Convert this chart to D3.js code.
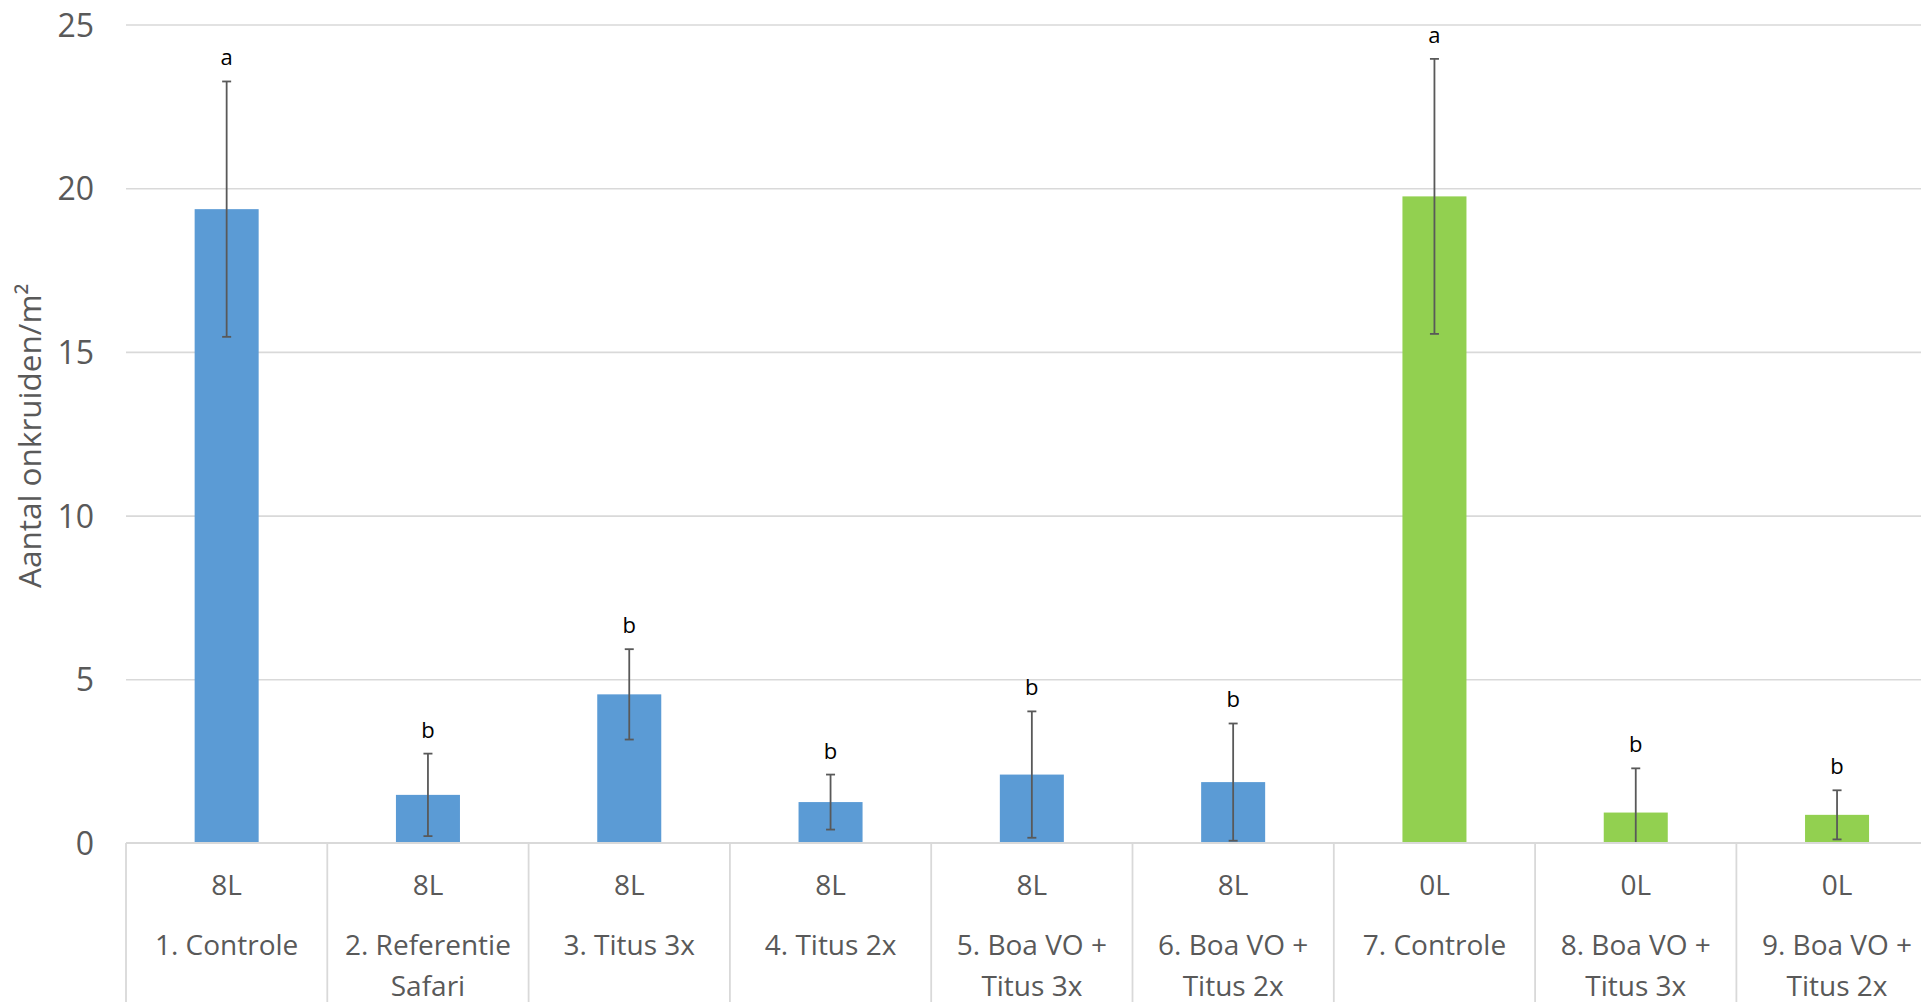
<!DOCTYPE html>
<html>
<head>
<meta charset="utf-8">
<script src="https://cdn.jsdelivr.net/npm/d3@7"></script>
<style>
  html, body { margin: 0; padding: 0; background: #fff; overflow: hidden; }
  svg { display: block; }
</style>
</head>
<body>
<svg id="chart" width="1921" height="1002"></svg>
<script>
// ---- data ----
const categories = ["1. Controle", "2. Referentie Safari", "3. Titus 3x", "4. Titus 2x",
  "5. Boa VO + Titus 3x", "6. Boa VO + Titus 2x", "7. Controle",
  "8. Boa VO + Titus 3x", "9. Boa VO + Titus 2x"];
const labelLines = [["1. Controle"], ["2. Referentie", "Safari"], ["3. Titus 3x"], ["4. Titus 2x"],
  ["5. Boa VO +", "Titus 3x"], ["6. Boa VO +", "Titus 2x"], ["7. Controle"],
  ["8. Boa VO +", "Titus 3x"], ["9. Boa VO +", "Titus 2x"]];
const groups = ["8L", "8L", "8L", "8L", "8L", "8L", "0L", "0L", "0L"];
const means = [19.36, 1.47, 4.54, 1.25, 2.09, 1.86, 19.75, 0.93, 0.86];
const errors = [3.9, 1.26, 1.38, 0.84, 1.93, 1.79, 4.2, 1.35, 0.75];
const letters = ["a", "b", "b", "b", "b", "b", "a", "b", "b"];
const seriesColor = ["#5b9bd5", "#5b9bd5", "#5b9bd5", "#5b9bd5", "#5b9bd5", "#5b9bd5", "#92d050", "#92d050", "#92d050"];
const yTicks = [0, 5, 10, 15, 20, 25];
const yTitle = "Aantal onkruiden/m²";

// ---- layout ----
const W = 1921, H = 1002;
const left = 126, step = 201.3;
const right = left + step * categories.length;
const y0 = 843, yTop = 24.5;
const font = "'Open Sans', 'Noto Sans', sans-serif";
const grey = "#595959";
const gridColor = "#d9d9d9";

const svg = d3.select("#chart");

const x = d3.scaleBand().domain(categories).range([left, right])
  .paddingInner(0.682).paddingOuter(0.341);
const y = d3.scaleLinear().domain([0, 25]).range([y0, yTop]);

// clip for plot area
svg.append("defs").append("clipPath").attr("id", "plotclip")
  .append("rect").attr("x", left).attr("y", 0).attr("width", W - left).attr("height", y0);

// gridlines (via axis)
const grid = svg.append("g").attr("transform", `translate(${left},0)`)
  .call(d3.axisLeft(y).tickValues(yTicks.filter(d => d > 0)).tickSize(-(W - left)).tickFormat(""));
grid.select(".domain").remove();
grid.selectAll("line").attr("stroke", gridColor).attr("stroke-width", 1.6);

// y tick labels
const yAxis = svg.append("g").attr("transform", `translate(${left},0)`)
  .call(d3.axisLeft(y).tickValues(yTicks).tickSize(0).tickPadding(32));
yAxis.select(".domain").remove();
yAxis.selectAll("text").attr("font-family", font).attr("font-size", 32)
  .attr("fill", grey).attr("dy", "0.36em");

// y title
svg.append("text")
  .attr("transform", `translate(41,${(y0 + yTop) / 2 + 2}) rotate(-90)`)
  .attr("text-anchor", "middle")
  .attr("font-family", font).attr("font-size", 31.5).attr("fill", grey)
  .text(yTitle);

// bars
const idx = d3.range(categories.length);
svg.append("g").selectAll("rect").data(idx).join("rect")
  .attr("x", i => x(categories[i]))
  .attr("width", x.bandwidth())
  .attr("y", i => y(means[i]))
  .attr("height", i => y(0) - y(means[i]))
  .attr("fill", i => seriesColor[i]);

// error bars
const eb = svg.append("g").attr("clip-path", "url(#plotclip)")
  .attr("stroke", "#595959").attr("stroke-width", 1.8);
idx.forEach(i => {
  const cx = x(categories[i]) + x.bandwidth() / 2;
  const hi = y(means[i] + errors[i]), lo = y(means[i] - errors[i]);
  eb.append("line").attr("x1", cx).attr("x2", cx).attr("y1", hi).attr("y2", lo);
  eb.append("line").attr("x1", cx - 4.5).attr("x2", cx + 4.5).attr("y1", hi).attr("y2", hi);
  eb.append("line").attr("x1", cx - 4.5).attr("x2", cx + 4.5).attr("y1", lo).attr("y2", lo);
});

// significance letters
svg.append("g").selectAll("text").data(idx).join("text")
  .attr("x", i => x(categories[i]) + x.bandwidth() / 2)
  .attr("y", i => y(means[i] + errors[i]) - 16)
  .attr("text-anchor", "middle")
  .attr("font-family", font).attr("font-size", 22).attr("fill", "#000")
  .text(i => letters[i]);

// x axis line
svg.append("line").attr("x1", left).attr("x2", W).attr("y1", y0).attr("y2", y0)
  .attr("stroke", gridColor).attr("stroke-width", 1.8);

// category separators
const seps = d3.range(categories.length + 1).map(k =>
  k < categories.length ? x(categories[k]) - x.step() * x.paddingInner() / 2
    : x(categories[k - 1]) + x.bandwidth() + x.step() * x.paddingInner() / 2);
svg.append("g").selectAll("line").data(seps).join("line")
  .attr("x1", d => d).attr("x2", d => d).attr("y1", y0).attr("y2", H)
  .attr("stroke", gridColor).attr("stroke-width", 1.8);

// category labels
const lab = svg.append("g").attr("font-family", font).attr("fill", grey)
  .attr("text-anchor", "middle");
idx.forEach(i => {
  const cx = x(categories[i]) + x.bandwidth() / 2;
  lab.append("text").attr("x", cx).attr("y", 895).attr("font-size", 28).text(groups[i]);
  labelLines[i].forEach((ln, j) => {
    lab.append("text").attr("x", cx).attr("y", 955 + j * 41).attr("font-size", 28).text(ln);
  });
});
</script>
</body>
</html>
